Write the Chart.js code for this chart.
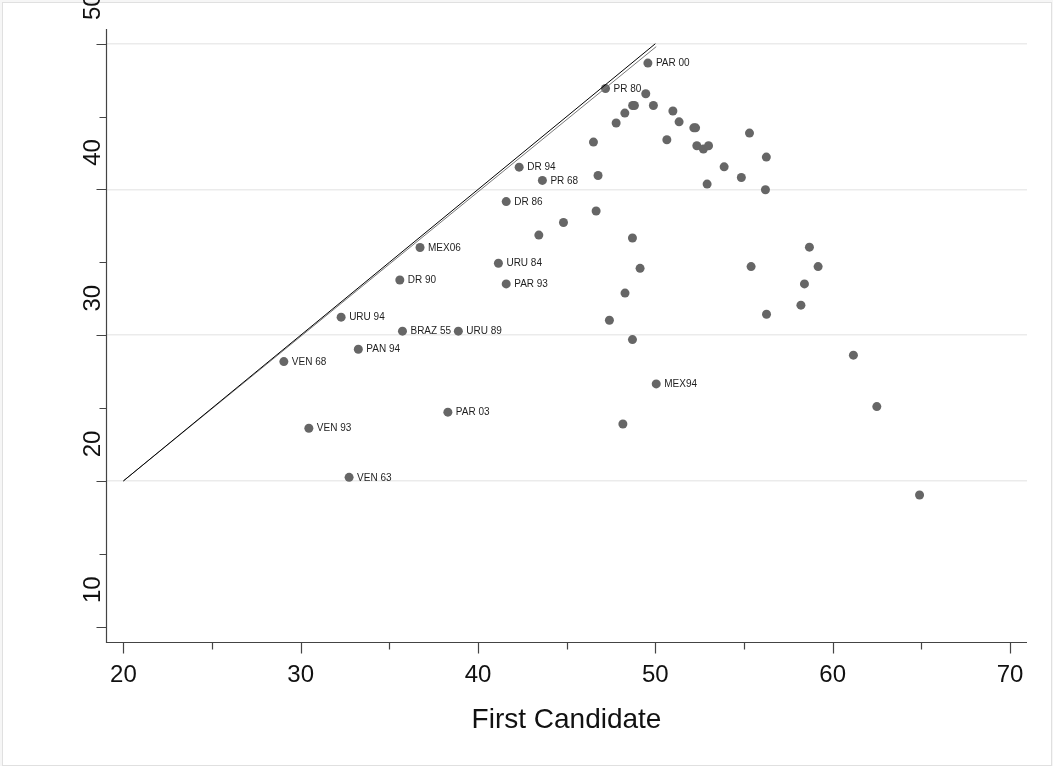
<!DOCTYPE html>
<html><head><meta charset="utf-8">
<script src="https://cdn.jsdelivr.net/npm/chart.js@4.4.0/dist/chart.umd.min.js"></script>
<style>html,body{margin:0;padding:0;background:#fff;overflow:hidden;} canvas{display:block;}</style>
</head><body>
<canvas id="c" width="1053" height="766"></canvas>
<script>
// ---- data ----
const firstCandidate = [49.58,47.19,49.46,48.72,48.82,49.89,48.28,47.79,50.99,51.34,52.17,52.27,46.51,50.65,52.34,52.71,53.00,55.31,56.26,53.88,54.85,46.77,52.92,56.21,42.32,43.63,41.59,46.66,44.82,43.43,48.71,36.73,58.69,41.15,49.14,55.40,59.18,35.59,41.59,58.41,48.29,58.21,32.28,56.27,47.41,35.74,38.89,48.71,33.25,61.17,29.05,50.05,62.49,38.30,48.17,30.46,32.73,64.90];
const secondCandidate = [48.67,46.93,46.57,45.76,45.76,45.76,45.24,44.56,45.38,44.64,44.23,44.23,43.25,43.41,43.00,42.77,43.00,43.87,42.22,41.55,40.82,40.96,40.37,39.98,41.53,40.62,39.17,38.52,37.73,36.87,36.67,36.02,36.04,34.94,34.59,34.71,34.71,33.79,33.52,33.52,32.89,32.06,31.24,31.44,31.03,30.28,30.28,29.70,29.04,28.63,28.19,26.66,25.10,24.72,23.91,23.62,20.25,19.04];
const pointLabels = ['PAR 00','PR 80','','','','','','','','','','','','','','','','','','','','','','','DR 94','PR 68','DR 86','','','','','MEX06','','URU 84','','','','DR 90','PAR 93','','','','URU 94','','','BRAZ 55','URU 89','','PAN 94','','VEN 68','MEX94','','PAR 03','','VEN 93','VEN 63',''];
const equalityLineX = [20, 50];
const equalityLineY = [20, 50];
const secondLineX = [20, 50.05];
const secondLineY = [20, 49.8];
const xTickValues = [20,25,30,35,40,45,50,55,60,65,70];
const xTickLabels = ['20','','30','','40','','50','','60','','70'];
const yTickValues = [10,15,20,25,30,35,40,45,50];
const yTickLabels = ['10','','20','','30','','40','','50'];
const gridValues = [20,30,40,50];
const xAxisTitle = 'First Candidate';

// ---- build ----
const points = firstCandidate.map((x,i)=>({x:x, y:secondCandidate[i]}));
const line1 = equalityLineX.map((x,i)=>({x:x, y:equalityLineY[i]}));
const line2 = secondLineX.map((x,i)=>({x:x, y:secondLineY[i]}));
const FONT = '"Liberation Sans", Arial, Helvetica, sans-serif';
const AXIS_COLOR = '#444';

const framePlugin = {
  id: 'frame',
  beforeDraw(chart){
    const ctx = chart.ctx; ctx.save();
    ctx.fillStyle = '#f6f6f6'; ctx.fillRect(0,0,chart.width,chart.height);
    ctx.fillStyle = '#ffffff'; ctx.fillRect(3,3,1048,762);
    ctx.strokeStyle = '#e0e0e0'; ctx.lineWidth = 1; ctx.strokeRect(2.5,2.5,1049,763);
    ctx.restore();
  }
};

const labelPlugin = {
  id: 'pointLabelsPlugin',
  afterDatasetsDraw(chart){
    const ctx = chart.ctx;
    const meta = chart.getDatasetMeta(2);
    ctx.save();
    ctx.font = '10px ' + FONT;
    ctx.fillStyle = '#1e1e1e';
    ctx.textAlign = 'left';
    ctx.textBaseline = 'middle';
    meta.data.forEach((el,i)=>{
      const t = pointLabels[i];
      if (t) ctx.fillText(t, el.x + 8, el.y + 0.5);
    });
    ctx.restore();
  }
};

const axesPlugin = {
  id: 'axesPlugin',
  afterDraw(chart){
    const ctx = chart.ctx;
    const xs = chart.scales.x, ys = chart.scales.y;
    const a = chart.chartArea;
    const axX = Math.round(a.left) + 0.5, axY = Math.round(a.bottom) + 0.5;
    ctx.save();
    ctx.strokeStyle = AXIS_COLOR; ctx.lineWidth = 1.2;
    ctx.beginPath();
    ctx.moveTo(axX, a.top); ctx.lineTo(axX, axY);
    ctx.lineTo(a.right, axY);
    ctx.stroke();
    ctx.beginPath();
    xTickValues.forEach((v,i)=>{
      const px = Math.round(xs.getPixelForValue(v)) + 0.5;
      const len = xTickLabels[i] ? 11 : 7;
      ctx.moveTo(px, axY); ctx.lineTo(px, axY + len);
    });
    yTickValues.forEach((v,i)=>{
      const py = Math.round(ys.getPixelForValue(v)) + 0.5;
      const len = yTickLabels[i] ? 10 : 7;
      ctx.moveTo(axX, py); ctx.lineTo(axX - len, py);
    });
    ctx.stroke();
    ctx.fillStyle = '#111';
    ctx.font = '24px ' + FONT;
    ctx.textAlign = 'center'; ctx.textBaseline = 'alphabetic';
    xTickValues.forEach((v,i)=>{
      if (!xTickLabels[i]) return;
      ctx.fillText(xTickLabels[i], xs.getPixelForValue(v), 681.5);
    });
    yTickValues.forEach((v,i)=>{
      if (!yTickLabels[i]) return;
      const py = ys.getPixelForValue(v);
      ctx.save();
      ctx.translate(100, py - 37);
      ctx.rotate(-Math.PI/2);
      ctx.textAlign = 'center'; ctx.textBaseline = 'alphabetic';
      ctx.fillText(yTickLabels[i], 0, 0);
      ctx.restore();
    });
    ctx.font = '28px ' + FONT;
    ctx.textAlign = 'center'; ctx.textBaseline = 'alphabetic';
    ctx.fillText(xAxisTitle, (a.left + a.right)/2, 728);
    ctx.restore();
  }
};

new Chart(document.getElementById('c'), {
  type: 'scatter',
  data: {
    datasets: [
      { type:'line', data: line1, borderColor:'#000', borderWidth:1, pointRadius:0, fill:false, tension:0 },
      { type:'line', data: line2, borderColor:'#7a7a7a', borderWidth:1, pointRadius:0, fill:false, tension:0 },
      { data: points, pointRadius: 4.5, pointHoverRadius: 4.5, backgroundColor:'#666666', borderColor:'#666666', borderWidth:0 }
    ]
  },
  options: {
    responsive: false,
    animation: false,
    devicePixelRatio: 1,
    layout: { padding: { left: 106, right: 26, top: 29, bottom: 124 } },
    plugins: { legend: { display:false }, tooltip: { enabled:false } },
    scales: {
      x: {
        type:'linear', min: 19.02, max: 70.96,
        afterBuildTicks: (s)=>{ s.ticks = xTickValues.map(v=>({value:v})); },
        ticks: { display:false },
        grid: { display:false, drawTicks:false },
        border: { display:false }
      },
      y: {
        type:'linear', min: 8.95, max: 51.01,
        afterBuildTicks: (s)=>{ s.ticks = yTickValues.map(v=>({value:v})); },
        ticks: { display:false },
        grid: { drawTicks:false, lineWidth: 1.5,
          color: (c)=> (c.tick && gridValues.includes(c.tick.value)) ? '#ebebeb' : 'rgba(0,0,0,0)' },
        border: { display:false }
      }
    }
  },
  plugins: [framePlugin, labelPlugin, axesPlugin]
});
</script>
</body></html>
